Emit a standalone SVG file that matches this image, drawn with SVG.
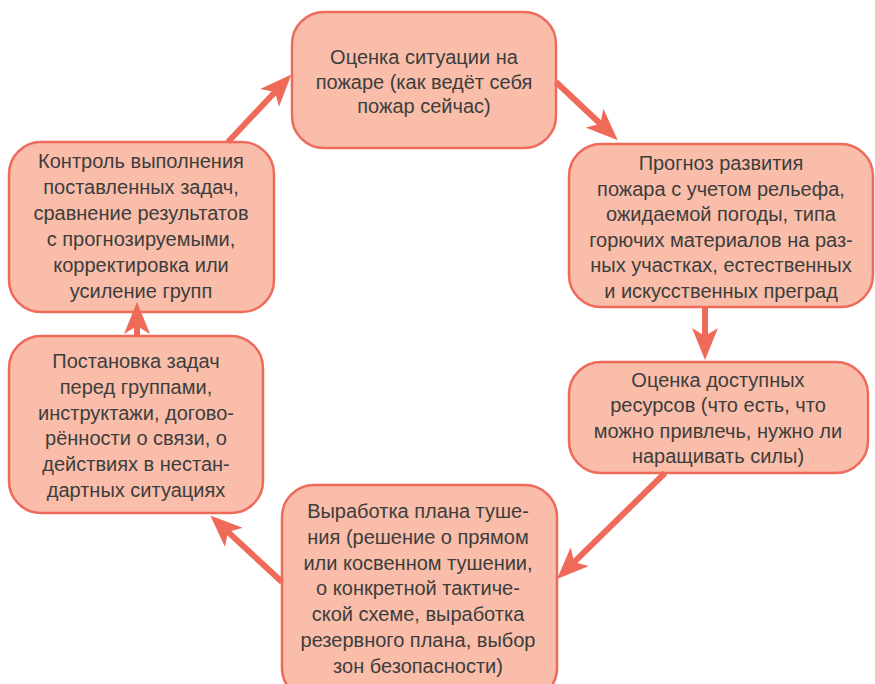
<svg xmlns="http://www.w3.org/2000/svg" width="875" height="684" viewBox="0 0 875 684">
<style>
.box{fill:#f9bda9;stroke:#ee6a5a;stroke-width:2.5}
.t{font-family:"Liberation Sans",Arial,sans-serif;font-size:20px;fill:#3d3d3d;text-anchor:middle}
.c{stroke:#ef6a59;stroke-width:6;fill:none;marker-end:url(#ah)}
</style>
<defs>
<marker id="ah" markerUnits="userSpaceOnUse" viewBox="0 0 32 26" markerWidth="32" markerHeight="26" refX="8" refY="13" orient="auto">
<path d="M0,0 L32,13 L0,26 L8,13 Z" fill="#ef6a59"/>
</marker>
</defs>
<rect width="875" height="684" fill="#ffffff"/>
<g id="n1">
<rect class="box" x="292" y="12" width="264" height="136" rx="32"/>
<text class="t"><tspan x="424" y="64">Оценка ситуации на</tspan><tspan x="424" y="88.5">пожаре (как ведёт себя</tspan><tspan x="424" y="113">пожар сейчас)</tspan></text>
</g>
<g id="n2">
<rect class="box" x="569" y="144" width="304" height="163" rx="32"/>
<text class="t"><tspan x="721" y="170">Прогноз развития</tspan><tspan x="721" y="195.5">пожара с учетом рельефа,</tspan><tspan x="721" y="221">ожидаемой погоды, типа</tspan><tspan x="721" y="246.5">горючих материалов на раз-</tspan><tspan x="721" y="272">ных участках, естественных</tspan><tspan x="721" y="297.5">и искусственных преград</tspan></text>
</g>
<g id="n3">
<rect class="box" x="569" y="362" width="299" height="111" rx="32"/>
<text class="t"><tspan x="718" y="387">Оценка доступных</tspan><tspan x="718" y="412">ресурсов (что есть, что</tspan><tspan x="718" y="437.5">можно привлечь, нужно ли</tspan><tspan x="718" y="463">наращивать силы)</tspan></text>
</g>
<g id="n4">
<rect class="box" x="282" y="485" width="275" height="215" rx="32"/>
<text class="t"><tspan x="418" y="518">Выработка плана туше-</tspan><tspan x="418" y="543.8">ния (решение о прямом</tspan><tspan x="418" y="569.6">или косвенном тушении,</tspan><tspan x="418" y="595.4">о конкретной тактиче-</tspan><tspan x="418" y="621.2">ской схеме, выработка</tspan><tspan x="418" y="647">резервного плана, выбор</tspan><tspan x="418" y="673">зон безопасности)</tspan></text>
</g>
<g id="n5">
<rect class="box" x="9" y="336" width="254" height="177" rx="32"/>
<text class="t"><tspan x="136" y="368">Постановка задач</tspan><tspan x="136" y="393.8">перед группами,</tspan><tspan x="136" y="419.6">инструктажи, догово-</tspan><tspan x="136" y="445.4">рённости о связи, о</tspan><tspan x="136" y="471.2">действиях в нестан-</tspan><tspan x="136" y="497">дартных ситуациях</tspan></text>
</g>
<g id="n6">
<rect class="box" x="9" y="142" width="265" height="170" rx="32"/>
<text class="t"><tspan x="141" y="168">Контроль выполнения</tspan><tspan x="141" y="194">поставленных задач,</tspan><tspan x="141" y="220">сравнение результатов</tspan><tspan x="141" y="246">с прогнозируемыми,</tspan><tspan x="141" y="272">корректировка или</tspan><tspan x="141" y="298">усиление групп</tspan></text>
</g>
<g id="connectors">
<line class="c" x1="228" y1="142" x2="275" y2="92"/>
<line class="c" x1="556" y1="82" x2="600.3" y2="123.7"/>
<line class="c" x1="705" y1="308" x2="705" y2="336"/>
<line class="c" x1="665" y1="473" x2="574.1" y2="562.2"/>
<line class="c" x1="282" y1="582" x2="227.9" y2="531.9"/>
<line class="c" x1="137" y1="336" x2="137" y2="326"/>
</g>
</svg>
